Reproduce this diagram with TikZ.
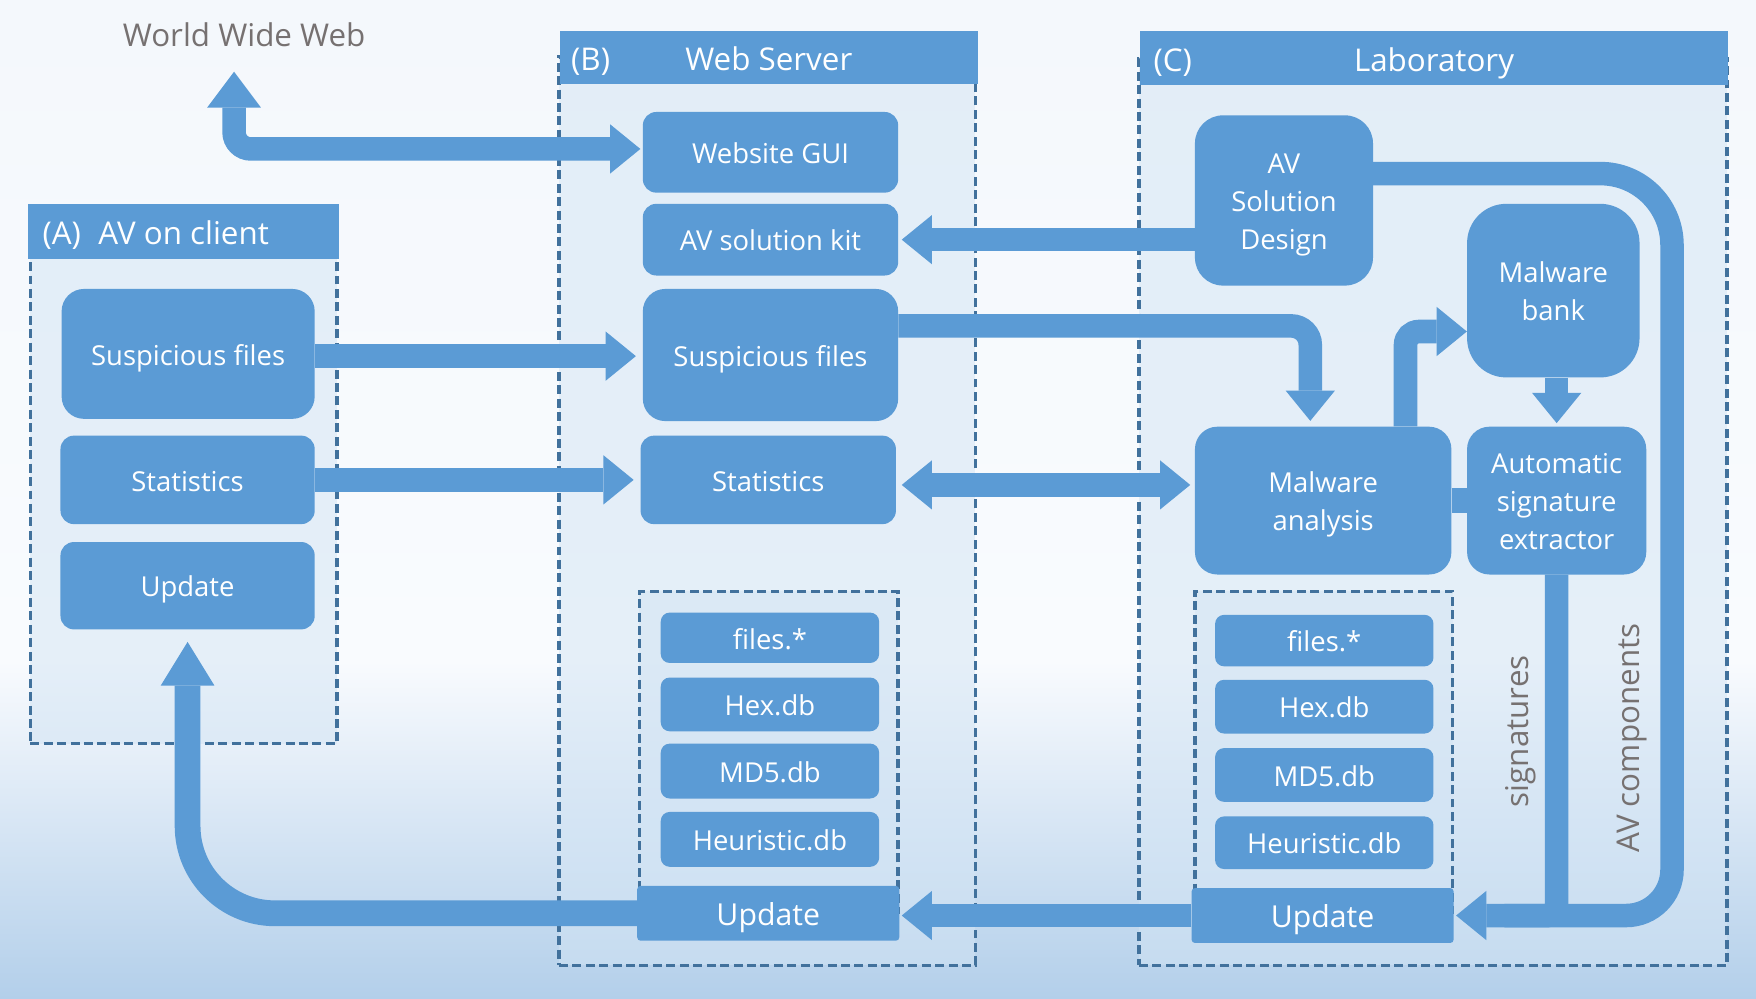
\documentclass[tikz,border=0pt]{standalone}
\usepackage{fontspec}
\setmainfont{Open Sans}
\usetikzlibrary{arrows.meta}
\definecolor{boxblue}{HTML}{5B9BD5}
\definecolor{dashblue}{HTML}{41719C}
\definecolor{panelfill}{HTML}{D2E4F4}
\definecolor{graytext}{HTML}{767171}
\definecolor{bgtop}{HTML}{F4F8FC}
\definecolor{bgmid}{HTML}{F9FBFE}
\definecolor{bgbot}{HTML}{B3CFEA}
\newcommand{\avtopstrut}{\rule{0pt}{1.07em}}
\newcommand{\avbotstrut}{\rule[-0.25em]{0pt}{0.25em}}
\tikzset{
  panel/.style={draw=dashblue, line width=3pt, dash pattern=on 8pt off 4pt, fill=panelfill, fill opacity=0.5, inner sep=0pt},
  struts/.style={execute at begin node={\avtopstrut}, execute at end node={\avbotstrut}},
  header/.style={fill=boxblue, text=white, inner sep=0pt, font=\fontsize{28}{34}\selectfont, struts},
  tag/.style={text=white, inner sep=0pt, font=\fontsize{28}{34}\selectfont, anchor=west, struts},
  box/.style={fill=boxblue, text=white, align=center, inner sep=0pt, font=\fontsize{24.5}{34}\selectfont, struts},
  dbbox/.style={box, rounded corners=8pt, minimum width=195},
  updbox/.style={box, rounded corners=3pt, minimum width=234, minimum height=49, font=\fontsize{27}{34}\selectfont},
  graylabel/.style={text=graytext, inner sep=0pt},
  tipA/.tip={Triangle[length=27pt,width=44pt,line width=0pt]},
  tipB/.tip={Triangle[length=32pt,width=48pt,line width=0pt]},
  tipC/.tip={Triangle[length=39pt,width=48pt,line width=0pt]},
  flow/.style={draw=boxblue, line width=21pt, -tipA},
  flowboth/.style={draw=boxblue, line width=21pt, tipA-tipA},
  link/.style={draw=boxblue, line width=22pt},
}
\begin{document}
\begin{tikzpicture}[x=1pt,y=-1pt]
% background
\fill[top color=bgtop, bottom color=bgmid] (0,0) rectangle (1568,591);
\fill[top color=bgmid, bottom color=bgbot] (0,590) rectangle (1568,892);
\useasboundingbox (0,0) rectangle (1568,892);

% panels
\node[panel, minimum width=274, minimum height=457] (pA) at (164,435.5) {};
\node[panel, minimum width=372, minimum height=811] (pB) at (685,456.5) {};
\node[panel, minimum width=525, minimum height=810] (pC) at (1279.5,457) {};

\node[header, minimum width=278, minimum height=49] (hA) at (164,206.5) {AV on client};
\node[tag] (tA) at ([xshift=13pt]hA.west) {(A)};
\node[header, minimum width=373, minimum height=47] (hB) at (686.5,51.5) {Web Server};
\node[tag] (tB) at ([xshift=10pt]hB.west) {(B)};
\node[header, minimum width=525, minimum height=48] (hC) at (1280.5,52) {Laboratory};
\node[tag] (tC) at ([xshift=12pt]hC.west) {(C)};

% (A) AV on client
\node[box, rounded corners=20pt, minimum width=226, minimum height=116] (susA) at (168,316) {Suspicious files};
\node[box, rounded corners=12pt, minimum width=227, minimum height=79] (statA) at (167.5,428.5) {Statistics};
\node[box, rounded corners=12pt, minimum width=227, minimum height=78] (updA) at (167.5,523) {Update};

% (B) Web server
\node[box, rounded corners=12pt, minimum width=228, minimum height=72] (gui) at (688,136) {Website GUI};
\node[box, rounded corners=12pt, minimum width=228, minimum height=64] (kit) at (688,214) {AV solution kit};
\node[box, rounded corners=20pt, minimum width=228, minimum height=118] (susB) at (688,317) {Suspicious files};
\node[box, rounded corners=12pt, minimum width=228, minimum height=79] (statB) at (686,428.5) {Statistics};
\node[panel, minimum width=231, minimum height=287] (dbB) at (686.5,671.5) {};
\node[dbbox, minimum height=45] (filesB) at (687.5,569.5) {files.*};
\node[dbbox, minimum height=48] (hexB) at (687.5,629) {Hex.db};
\node[dbbox, minimum height=49] (md5B) at (687.5,688.5) {MD5.db};
\node[dbbox, minimum height=49] (heuB) at (687.5,749.5) {Heuristic.db};
\node[updbox] (updB) at (686,815.5) {Update};

% (C) Laboratory
\node[box, rounded corners=25pt, minimum width=159, minimum height=152] (avsd) at (1146.5,179) {\avtopstrut AV\\Solution\\Design\avbotstrut};
\node[box, rounded corners=35pt, minimum width=154, minimum height=155] (bank) at (1387,259.5) {\avtopstrut Malware\\bank\avbotstrut};
\node[box, rounded corners=20pt, minimum width=229, minimum height=132] (mana) at (1181.5,447) {\avtopstrut Malware\\analysis\avbotstrut};
\node[box, rounded corners=20pt, minimum width=160, minimum height=132] (ase) at (1390,447) {\avtopstrut Automatic\\signature\\extractor\avbotstrut};
\node[panel, minimum width=230, minimum height=287] (dbC) at (1182,671.5) {};
\node[dbbox, minimum height=46] (filesC) at (1182.5,572) {files.*};
\node[dbbox, minimum height=48] (hexC) at (1182.5,631) {Hex.db};
\node[dbbox, minimum height=48] (md5C) at (1182.5,692) {MD5.db};
\node[dbbox, minimum height=47] (heuC) at (1182.5,752.5) {Heuristic.db};
\node[updbox] (updC) at (1181,817.5) {Update};

% labels
\node[graylabel, font=\fontsize{28}{34}\selectfont] (wwwl) at (218,31) {World Wide Web};
\coordinate (wwwtip) at (209,64);
\node[graylabel, rotate=90, font=\fontsize{28}{32}\selectfont] (sigl) at (1358,653) {signatures};
\node[graylabel, rotate=90, font=\fontsize{28}{32}\selectfont] (avcl) at (1457,659) {AV components};
\coordinate (avc1) at (1493,155);
\coordinate (avc2) at (1493,817.5);

% connectors
\draw[draw=boxblue, line width=21pt, tipA-tipB, rounded corners=15pt] ([xshift=-2pt,yshift=3pt]gui.west) -| (wwwtip);
\draw[flow] (avsd.west |- kit.east) -- ([xshift=3pt]kit.east);
\draw[flow] ([yshift=-2pt]susA.east) -- ([xshift=-6pt,yshift=-2pt]susB.west |- susA.east);
\draw[flow] (statA.east) -- ([xshift=-6pt]statB.west |- statA.east);
\draw[flow, rounded corners=17pt] ([yshift=26pt]susB.east) -| ([xshift=-11.5pt,yshift=5pt]mana.north);
\draw[flowboth] ([xshift=5pt,yshift=-4.5pt]statB.east) -- ([xshift=-4pt,yshift=14pt]mana.west);
\draw[flow, rounded corners=12pt] ([xshift=73.5pt]mana.north) |- ([yshift=-36.5pt]bank.west);
\draw[flow] ([xshift=3pt]bank.south) -- ([xshift=3pt,yshift=3pt]bank.south |- ase.north);
\draw[link] (mana.east) -- (ase.west);
\draw[link, line width=21pt, rounded corners=8pt] (ase.south) |- ([xshift=45pt]updC.east);
\draw[flow] ([yshift=24pt]avsd.east) [rounded corners=64pt] -- (avc1) [rounded corners=41pt] -- (avc2) -- ([xshift=2pt]updC.east);
\draw[flow] (updC.west) -- ([xshift=2pt]updB.east |- updC.west);
\draw[draw=boxblue, line width=23pt, -tipC, rounded corners=78pt] (updB.west) -| ([yshift=-11pt]updA.south);
\end{tikzpicture}
\end{document}
